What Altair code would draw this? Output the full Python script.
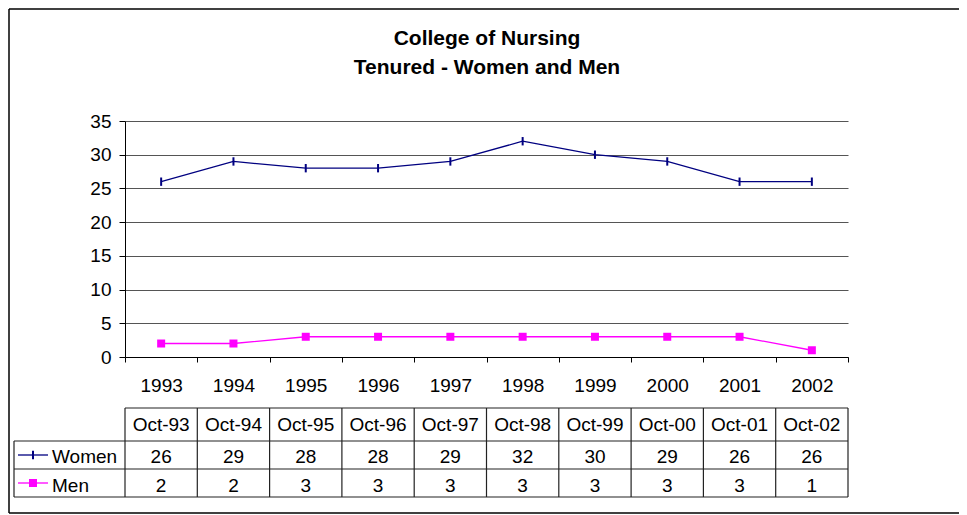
import altair as alt
import pandas as pd

years = ["1993", "1994", "1995", "1996", "1997", "1998", "1999", "2000", "2001", "2002"]
oct_labels = ["Oct-93", "Oct-94", "Oct-95", "Oct-96", "Oct-97", "Oct-98", "Oct-99", "Oct-00", "Oct-01", "Oct-02"]
women = [26, 29, 28, 28, 29, 32, 30, 29, 26, 26]
men = [2, 2, 3, 3, 3, 3, 3, 3, 3, 1]
title_lines = ["College of Nursing", "Tenured - Women and Men"]

df = pd.DataFrame({"year": years, "oct": oct_labels, "Women": women, "Men": men})
one = pd.DataFrame({"k": [0]})

FONT = "Liberation Sans"
FS = 19
NAVY = "#000080"
MAG = "#FF00FF"
LINE = "#222222"
W, H = 723, 236

xscale = alt.Scale(paddingInner=0, paddingOuter=0)
xaxis = alt.Axis(title=None, labelAngle=0, tickBand="extent", grid=False,
                 domainColor="black", tickColor="black", tickSize=5,
                 labelFontSize=FS, labelFont=FONT, labelColor="black",
                 labelPadding=14)
yscale = alt.Scale(domain=[0, 35], nice=False, zero=True)
yaxis = alt.Axis(title=None, values=list(range(0, 36, 5)), grid=True, gridColor="#555555",
                 gridWidth=1, domainColor="black", tickColor="black", tickSize=6,
                 labelFontSize=FS, labelFont=FONT, labelColor="black", labelPadding=8)


def X():
    return alt.X("year:N", sort=years, scale=xscale, axis=xaxis)


def Y(field):
    return alt.Y(f"{field}:Q", scale=yscale, axis=yaxis)


base = alt.Chart(df)

women_line = base.mark_line(color=NAVY, strokeWidth=1.3).encode(x=X(), y=Y("Women"))
women_pts = base.mark_point(shape="M0,-1L0,1", color=NAVY, strokeWidth=2, size=70,
                            filled=False, opacity=1).encode(x=X(), y=Y("Women"))
men_line = base.mark_line(color=MAG, strokeWidth=1.3).encode(x=X(), y=Y("Men"))
men_pts = base.mark_square(color=MAG, size=64, opacity=1).encode(x=X(), y=Y("Men"))

# data table below the plot area
y_head_top, y_head_bot, y_w_bot, y_m_bot = 287, 320, 348, 376
x_leg = -111


def hrule(y, x0, x1=W, color=LINE, sw=1.2):
    return alt.Chart(one).mark_rule(color=color, strokeWidth=sw).encode(
        x=alt.value(x0), x2=alt.value(x1), y=alt.value(y))


hlines = [hrule(y_head_top, 0), hrule(y_head_bot, x_leg), hrule(y_w_bot, x_leg), hrule(y_m_bot, x_leg)]
vcols = base.mark_rule(color=LINE, strokeWidth=1.2).encode(
    x=alt.X("year:N", sort=years, scale=xscale, axis=xaxis, bandPosition=0),
    y=alt.value(y_head_top), y2=alt.value(y_m_bot))
vright = alt.Chart(one).mark_rule(color=LINE, strokeWidth=1.2).encode(
    x=alt.value(W), y=alt.value(y_head_top), y2=alt.value(y_m_bot))
vleft = alt.Chart(one).mark_rule(color=LINE, strokeWidth=1.2).encode(
    x=alt.value(x_leg), y=alt.value(y_head_bot), y2=alt.value(y_m_bot))


def cells(field, yv):
    return base.mark_text(font=FONT, fontSize=FS, color="black", baseline="middle").encode(
        x=X(), y=alt.value(yv), text=f"{field}:N")


head_txt = cells("oct", 304)
women_txt = cells("Women", 336)
men_txt = cells("Men", 365)

leg_w_line = alt.Chart(one).mark_rule(color=NAVY, strokeWidth=1.3).encode(
    x=alt.value(-107), x2=alt.value(-77), y=alt.value(334))
leg_w_pt = alt.Chart(one).mark_point(shape="M0,-1L0,1", color=NAVY, strokeWidth=2, size=70,
                                     filled=False, opacity=1).encode(x=alt.value(-92), y=alt.value(334))
leg_m_line = alt.Chart(one).mark_rule(color=MAG, strokeWidth=1.3).encode(
    x=alt.value(-107), x2=alt.value(-77), y=alt.value(362))
leg_m_pt = alt.Chart(one).mark_square(color=MAG, size=64, opacity=1).encode(
    x=alt.value(-92), y=alt.value(362))
leg_w_txt = alt.Chart(one).mark_text(text="Women", font=FONT, fontSize=FS, color="black",
                                     align="left", baseline="middle").encode(x=alt.value(-73), y=alt.value(336))
leg_m_txt = alt.Chart(one).mark_text(text="Men", font=FONT, fontSize=FS, color="black",
                                     align="left", baseline="middle").encode(x=alt.value(-73), y=alt.value(365))

title = alt.Chart(one).mark_text(text=title_lines, font=FONT, fontSize=21, fontWeight="bold", color="black",
                                 align="center", baseline="middle", lineHeight=29).encode(
    x=alt.value(362), y=alt.value(-82))

# outer frame (left, top, bottom edges; the right edge lies beyond the window)
frame_top = hrule(-112, -116, 900, "black", 1.5)
frame_bot = hrule(392, -116, 900, "black", 1.5)
frame_left = alt.Chart(one).mark_rule(color="black", strokeWidth=1.5).encode(
    x=alt.value(-116), y=alt.value(-112), y2=alt.value(392))

chart = alt.layer(
    women_line, frame_top, frame_bot, frame_left, women_pts, men_line, men_pts,
    *hlines, vcols, vright, vleft, head_txt, women_txt, men_txt,
    leg_w_line, leg_w_pt, leg_m_line, leg_m_pt, leg_w_txt, leg_m_txt, title
).properties(
    width=W, height=H,
    autosize=alt.AutoSizeParams(type="none"),
    padding={"left": 117, "top": 113, "right": 111, "bottom": 157},
).configure_view(stroke=None)

chart.save("out.html", embed_options={"renderer": "svg", "actions": False})
